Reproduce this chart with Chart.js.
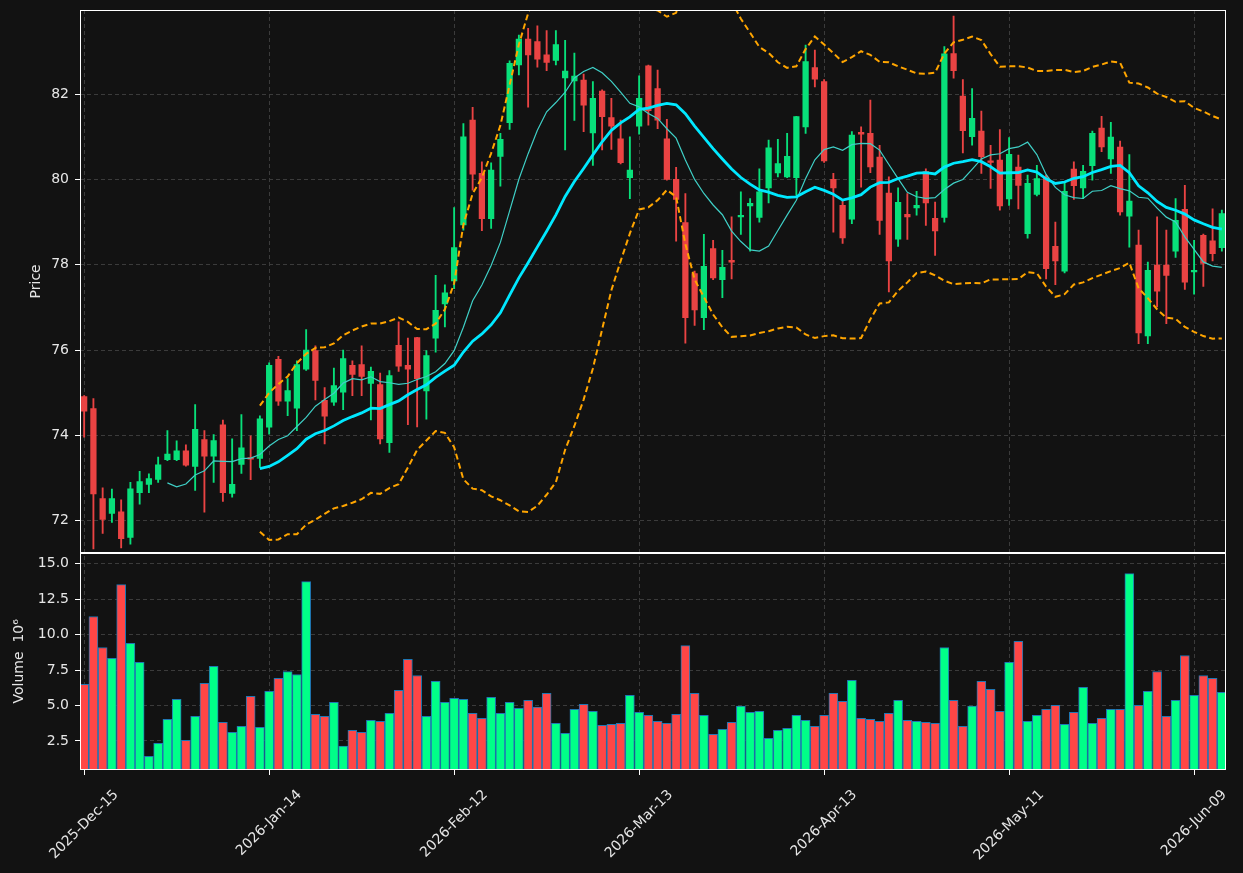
<!DOCTYPE html>
<html><head><meta charset="utf-8">
<script src="https://cdn.jsdelivr.net/npm/chart.js@4.4.1/dist/chart.umd.min.js"></script>
<style>html,body{margin:0;padding:0;background:#121212;}canvas{display:block;}</style>
</head><body>
<canvas id="c" width="1243" height="873"></canvas>
<script>
const opens = [74.91,74.63,72.52,72.17,72.21,71.61,72.66,72.85,72.97,73.43,
73.43,73.64,73.27,73.90,73.51,74.25,72.64,73.32,73.48,73.46,
74.19,75.78,74.80,74.64,75.55,75.99,74.82,74.78,75.01,75.64,
75.66,75.22,75.19,73.83,76.11,75.64,76.29,75.04,76.28,77.08,
77.62,78.93,81.39,80.14,79.08,80.54,81.33,82.68,83.29,83.23,
82.92,82.79,82.38,82.31,82.33,81.09,82.07,81.45,80.95,80.04,
81.25,82.66,82.13,80.95,80.00,78.99,77.79,76.76,78.38,77.65,
78.10,79.12,79.38,79.11,79.80,80.15,80.06,80.04,81.23,82.62,
82.29,80.00,79.39,79.07,81.10,81.08,80.52,79.68,78.60,79.18,
79.33,80.18,79.09,79.11,82.95,81.95,81.00,81.13,80.43,80.45,
79.54,80.29,78.73,79.65,80.04,78.43,77.85,80.24,79.80,80.32,
81.20,80.48,80.76,79.14,78.46,76.33,77.99,77.99,78.32,79.30,
77.83,78.69,78.56,78.40];
const highs = [74.93,74.86,72.77,72.74,72.49,72.90,73.16,73.10,73.49,74.11,
73.87,73.78,74.72,74.11,74.02,74.36,73.92,74.49,73.99,74.46,
75.70,75.85,75.33,75.75,76.48,76.10,75.12,75.58,76.00,75.75,
76.10,75.60,75.46,75.52,76.66,76.28,76.30,75.99,77.75,77.53,
79.34,81.31,81.69,80.41,80.39,81.08,82.78,83.38,83.54,83.60,
83.49,83.49,83.26,82.96,82.47,82.29,82.10,81.90,81.39,81.00,
82.43,82.68,82.56,81.41,80.28,79.67,77.85,78.71,78.57,78.34,
79.12,79.71,79.55,80.25,80.92,80.94,81.08,81.48,83.15,83.03,
82.34,80.14,79.51,81.12,81.23,81.86,80.80,80.06,79.80,79.67,
79.72,80.25,79.47,83.11,83.83,82.34,82.13,81.60,80.80,81.17,
80.98,80.57,80.10,80.33,80.10,79.00,79.94,80.41,80.33,81.13,
81.48,81.34,80.90,80.58,78.81,78.06,79.12,78.81,79.55,79.86,
78.57,78.72,79.31,79.28];
const lows = [73.96,71.34,71.70,71.96,71.36,71.45,72.39,72.66,72.90,73.41,
73.41,73.28,72.71,72.20,72.90,72.45,72.55,73.11,72.96,73.25,
74.03,74.70,74.46,74.11,75.52,74.83,73.80,74.70,74.60,74.93,
74.93,74.36,73.80,73.60,75.50,74.25,74.20,74.38,75.95,76.54,
77.44,78.81,79.75,78.80,78.85,79.84,81.17,82.45,81.69,82.63,
82.55,82.68,80.69,81.38,81.12,80.33,80.69,80.70,80.36,79.55,
81.06,81.27,81.19,79.98,78.55,76.16,76.58,76.48,77.65,77.23,
77.67,78.71,78.32,79.00,79.45,80.06,80.04,79.63,81.08,82.17,
80.40,78.76,78.50,78.96,79.82,80.16,78.71,77.36,78.43,78.59,
79.16,78.92,78.22,79.00,82.37,80.62,80.80,80.14,79.79,79.28,
79.39,79.31,78.62,79.61,77.67,77.53,77.81,79.53,79.55,79.98,
80.65,80.14,79.16,78.41,76.15,76.15,77.01,76.62,78.17,77.42,
77.31,77.49,78.09,78.32];
const closes = [74.57,72.63,72.03,72.52,71.58,72.75,72.92,72.99,73.31,73.56,
73.64,73.30,74.14,73.51,73.88,72.66,72.85,73.71,73.44,74.39,
75.64,74.80,75.05,75.66,76.00,75.29,74.45,75.17,75.80,75.43,
75.38,75.50,73.92,75.40,75.62,75.55,75.33,75.87,76.93,77.34,
78.40,81.00,80.12,79.08,80.22,80.94,82.72,83.29,82.92,82.82,
82.74,83.16,82.54,82.42,81.74,81.90,81.47,81.25,80.39,80.22,
81.90,81.61,81.39,80.00,79.53,76.76,76.94,77.96,77.69,77.94,
78.06,79.16,79.44,79.71,80.74,80.37,80.54,81.47,82.76,82.35,
80.43,79.80,78.63,81.04,81.06,80.29,79.04,78.09,79.46,79.12,
79.39,79.45,78.79,82.94,82.55,81.14,81.43,80.53,80.40,79.38,
80.59,79.86,79.91,80.02,77.91,78.09,79.72,79.85,80.19,81.08,
80.76,80.99,79.24,79.49,76.40,77.87,77.38,77.75,79.04,77.59,
77.87,78.03,78.26,79.20];
const volumes = [6.49,11.28,9.09,8.32,13.53,9.38,8.04,1.42,2.34,4.03,
5.43,2.55,4.24,6.56,7.76,3.82,3.11,3.53,5.65,3.46,
6.00,6.91,7.40,7.19,13.74,4.38,4.24,5.22,2.13,3.25,
3.11,3.96,3.89,4.45,6.07,8.25,7.12,4.24,6.70,5.22,
5.50,5.43,4.45,4.10,5.57,4.45,5.22,4.80,5.36,4.89,
5.86,3.75,3.04,4.73,5.08,4.59,3.60,3.67,3.75,5.72,
4.52,4.31,3.89,3.75,4.38,9.23,5.86,4.31,2.97,3.32,
3.82,4.96,4.52,4.59,2.69,3.25,3.39,4.31,3.96,3.53,
4.31,5.86,5.29,6.77,4.10,4.03,3.89,4.45,5.36,3.96,
3.89,3.82,3.75,9.09,5.36,3.53,4.96,6.70,6.14,4.59,
8.04,9.52,3.89,4.31,4.73,5.01,3.67,4.52,6.28,3.75,
4.10,4.73,4.73,14.30,5.01,6.00,7.40,4.24,5.36,8.53,
5.72,7.12,6.91,5.93];
const tickIndex = [0,20,40,60,80,100,120];
const tickLabels = ['2025-Dec-15','2026-Jan-14','2026-Feb-12','2026-Mar-13','2026-Apr-13','2026-May-11','2026-Jun-09'];
const priceTicks = [72,74,76,78,80,82];
const volumeTicks = [2.5,5,7.5,10,12.5,15];

// indicators derived from closes (as the original chart: mav 10 / 20, Bollinger 20, 2 sd)
function rolling(arr, n, fn){ const out=[]; for(let i=n-1;i<arr.length;i++){ out.push({x:i, y:fn(arr.slice(i-n+1,i+1))}); } return out; }
const mean = a => a.reduce((s,v)=>s+v,0)/a.length;
const sd = a => { const m=mean(a); return Math.sqrt(a.reduce((s,v)=>s+(v-m)*(v-m),0)/a.length); };
const ma10 = rolling(closes,10,mean);
const ma20 = rolling(closes,20,mean);
const bbUp = rolling(closes,20,a=>mean(a)+2*sd(a));
const bbLo = rolling(closes,20,a=>mean(a)-2*sd(a));

const idx = closes.map((_,i)=>i);
const up = idx.map(i=>closes[i]>=opens[i]);
const CU='#08e07a', CD='#ea4343', VU='#00ff88', VD='#ff4646';
const candleCol = idx.map(i=>up[i]?CU:CD);
const volCol = idx.map(i=>up[i]?VU:VD);

const FONT = {family:'"DejaVu Sans", sans-serif', size:14};
const TXT = '#e6e6e6';
const GRID = '#3b3b3b';

const decor = {
  id:'decor',
  afterDraw(chart){
    const {ctx, scales:{x,y,yv}} = chart;
    ctx.save();
    ctx.strokeStyle='#ffffff'; ctx.lineWidth=1; ctx.setLineDash([]);
    const L=Math.round(x.left)+0.5, R=Math.round(x.right)-0.5;
    ctx.strokeRect(L, Math.round(y.top)+0.5, R-L, Math.round(y.bottom)-Math.round(y.top)-1);
    ctx.strokeRect(L, Math.round(yv.top)+0.5, R-L, Math.round(yv.bottom)-Math.round(yv.top)-1);
    ctx.fillStyle=TXT; ctx.font='14px "DejaVu Sans", sans-serif';
    ctx.textAlign='center'; ctx.textBaseline='middle';
    const base=Math.max(Math.round(y.bottom),Math.round(yv.bottom));
    tickIndex.forEach((v,k)=>{
      const px=x.getPixelForValue(v);
      const w=ctx.measureText(tickLabels[k]).width;
      const ext=(w+16)*Math.SQRT1_2;
      const cy=base+17+ext/2;
      ctx.save(); ctx.translate(px,cy); ctx.rotate(-Math.PI/4); ctx.fillText(tickLabels[k],0,0); ctx.restore();
    });
    ctx.restore();
  }
};

const fitV = s => { s.width=80; s.paddingTop=0; s.paddingBottom=0; };

new Chart(document.getElementById('c'), {
  type:'bar',
  data:{datasets:[
    {type:'line', data:ma20, borderColor:'#00e8ff', borderWidth:2.8, pointRadius:0, tension:0, yAxisID:'y', order:0},
    {type:'line', data:ma10, borderColor:'#3fcfc6', borderWidth:1.2, pointRadius:0, tension:0, yAxisID:'y', order:1},
    {type:'line', data:bbUp, borderColor:'#ffa500', borderWidth:2, borderDash:[6,3.5], pointRadius:0, tension:0, yAxisID:'y', order:1},
    {type:'line', data:bbLo, borderColor:'#ffa500', borderWidth:2, borderDash:[6,3.5], pointRadius:0, tension:0, yAxisID:'y', order:1},
    {type:'bar', data:idx.map(i=>({x:i,y:[opens[i],closes[i]]})), backgroundColor:candleCol, barThickness:5.6, minBarLength:1.5, grouped:false, yAxisID:'y', order:2},
    {type:'bar', data:idx.map(i=>({x:i,y:[lows[i],highs[i]]})), backgroundColor:candleCol, barThickness:1.2, grouped:false, yAxisID:'y', order:3},
    {type:'bar', data:idx.map(i=>({x:i,y:volumes[i]})), backgroundColor:volCol, borderColor:'#1f77b4', borderWidth:1, barThickness:9, grouped:false, yAxisID:'yv', order:4}
  ]},
  options:{
    responsive:false, animation:false, devicePixelRatio:1,
    layout:{padding:{left:0,right:17,top:10,bottom:0}},
    plugins:{legend:{display:false}, tooltip:{enabled:false}},
    scales:{
      x:{type:'linear', min:-0.45, max:123.45, offset:false,
        afterBuildTicks:s=>{s.ticks=tickIndex.map(v=>({value:v}));},
        afterFit:s=>{s.height=103; s.paddingLeft=0; s.paddingRight=0;},
        ticks:{display:false},
        grid:{color:GRID, lineWidth:1, offset:false, drawTicks:true, tickLength:5, tickColor:'#ffffff', tickWidth:1, tickBorderDash:[]},
        border:{display:false, dash:[4,3]}
      },
      yv:{type:'linear', position:'left', stack:'panels', stackWeight:217, min:0.45, max:15.78,
        afterBuildTicks:s=>{s.ticks=volumeTicks.map(v=>({value:v}));},
        afterFit:fitV,
        ticks:{color:TXT, font:FONT, padding:6, callback:v=>Number(v).toFixed(1)},
        grid:{color:GRID, lineWidth:1, tickLength:5, tickColor:'#ffffff', tickWidth:1, tickBorderDash:[]},
        border:{display:false, dash:[4,3]},
        title:{display:true, text:'Volume  10⁶', color:TXT, font:FONT, padding:{top:11,bottom:0}}
      },
      y:{type:'linear', position:'left', stack:'panels', stackWeight:542, min:71.25, max:83.97,
        afterBuildTicks:s=>{s.ticks=priceTicks.map(v=>({value:v}));},
        afterFit:fitV,
        ticks:{color:TXT, font:FONT, padding:6},
        grid:{color:GRID, lineWidth:1, tickLength:5, tickColor:'#ffffff', tickWidth:1, tickBorderDash:[]},
        border:{display:false, dash:[4,3]},
        title:{display:true, text:'Price', color:TXT, font:FONT, padding:{top:28,bottom:0}}
      }
    }
  },
  plugins:[decor]
});
</script>
</body></html>
